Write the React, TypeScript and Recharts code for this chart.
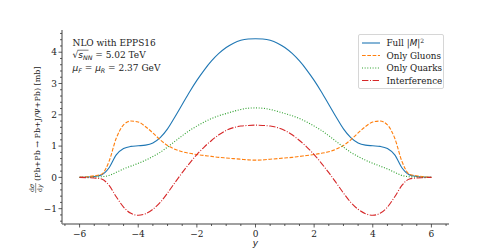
import React from 'react';
import { LineChart, Line, XAxis, YAxis, Legend } from 'recharts';

const xValues = [
  -6, -5.75, -5.5, -5.25, -5, -4.75, -4.5, -4.25, -4, -3.75, -3.5, -3.25, -3,
  -2.75, -2.5, -2.25, -2, -1.75, -1.5, -1.25, -1, -0.75, -0.5, -0.25, 0,
  0.25, 0.5, 0.75, 1, 1.25, 1.5, 1.75, 2, 2.25, 2.5, 2.75, 3, 3.25, 3.5, 3.75,
  4, 4.25, 4.5, 4.75, 5, 5.25, 5.5, 5.75, 6,
];

const fullM2 = [
  0, 0.01, 0.03, 0.08, 0.3, 0.72, 0.92, 0.99, 1.01, 1.03, 1.1, 1.27, 1.55,
  1.93, 2.33, 2.73, 3.1, 3.43, 3.72, 3.96, 4.15, 4.29, 4.38, 4.42, 4.43,
  4.42, 4.38, 4.29, 4.15, 3.96, 3.72, 3.43, 3.1, 2.73, 2.33, 1.93, 1.55, 1.27,
  1.1, 1.03, 1.01, 0.99, 0.92, 0.72, 0.3, 0.08, 0.03, 0.01, 0,
];

const onlyGluons = [
  0, 0.02, 0.05, 0.1, 0.5, 1.25, 1.68, 1.8, 1.77, 1.62, 1.42, 1.2, 1.02,
  0.9, 0.82, 0.77, 0.73, 0.7, 0.67, 0.64, 0.62, 0.6, 0.58, 0.56, 0.55,
  0.56, 0.58, 0.6, 0.62, 0.64, 0.67, 0.7, 0.73, 0.77, 0.82, 0.9, 1.02, 1.2,
  1.42, 1.62, 1.77, 1.8, 1.68, 1.25, 0.5, 0.1, 0.05, 0.02, 0,
];

const onlyQuarks = [
  0, 0, 0.01, 0.02, 0.06, 0.16, 0.27, 0.36, 0.45, 0.55, 0.67, 0.8, 0.97,
  1.15, 1.33, 1.5, 1.64, 1.77, 1.88, 1.97, 2.04, 2.11, 2.17, 2.21, 2.22,
  2.21, 2.17, 2.11, 2.04, 1.97, 1.88, 1.77, 1.64, 1.5, 1.33, 1.15, 0.97, 0.8,
  0.67, 0.55, 0.45, 0.36, 0.27, 0.16, 0.06, 0.02, 0.01, 0, 0,
];

const interference = [
  0, -0.01, -0.02, -0.05, -0.25, -0.62, -0.95, -1.15, -1.21, -1.16, -1.02, -0.8, -0.5,
  -0.17, 0.15, 0.45, 0.73, 0.97, 1.18, 1.36, 1.5, 1.59, 1.64, 1.66, 1.67,
  1.66, 1.64, 1.59, 1.5, 1.36, 1.18, 0.97, 0.73, 0.45, 0.15, -0.17, -0.5, -0.8,
  -1.02, -1.16, -1.21, -1.15, -0.95, -0.62, -0.25, -0.05, -0.02, -0.01, 0,
];

const xMajorTicks = [-6, -4, -2, 0, 2, 4, 6];
const xAllTicks = [
  -6.5, -6, -5.5, -5, -4.5, -4, -3.5, -3, -2.5, -2, -1.5, -1, -0.5, 0,
  0.5, 1, 1.5, 2, 2.5, 3, 3.5, 4, 4.5, 5, 5.5, 6, 6.5,
];
const yMajorTicks = [-1, 0, 1, 2, 3, 4];
const yAllTicks = [
  -1.4, -1.2, -1, -0.8, -0.6, -0.4, -0.2, 0, 0.2, 0.4, 0.6, 0.8, 1, 1.2, 1.4,
  1.6, 1.8, 2, 2.2, 2.4, 2.6, 2.8, 3, 3.2, 3.4, 3.6, 3.8, 4, 4.2, 4.4, 4.6,
];

const seriesNames = ['Full', 'Only Gluons', 'Only Quarks', 'Interference'];

const data = xValues.map((x, i) => ({
  x,
  full: fullM2[i],
  gluons: onlyGluons[i],
  quarks: onlyQuarks[i],
  interf: interference[i],
}));

const series = [
  { key: 'full', name: seriesNames[0], color: '#1f77b4', dash: undefined as string | undefined },
  { key: 'gluons', name: seriesNames[1], color: '#ff7f0e', dash: '3.7 1.6' },
  { key: 'quarks', name: seriesNames[2], color: '#2ca02c', dash: '1 1.65' },
  { key: 'interf', name: seriesNames[3], color: '#d62728', dash: '6.4 1.6 1 1.6' },
];

const SERIF = '"DejaVu Serif", serif';
const SANS = '"DejaVu Sans", sans-serif';
const SPINE = { stroke: '#808080', strokeWidth: 1.5 };

const fmt = (v: number) => (v < 0 ? '\u2212' + Math.abs(v) : String(v));

const XTick = (props: any) => {
  const { x, y, payload } = props;
  const v = payload.value as number;
  const major = xMajorTicks.includes(v);
  return (
    <g>
      <line x1={x} x2={x} y1={y} y2={y + (major ? 3.5 : 2)} stroke="#333" strokeWidth={0.8} />
      {major && (
        <text x={x} y={y + 12.5} textAnchor="middle" fontFamily={SERIF} fontSize={9} fill="#222">
          {fmt(v)}
        </text>
      )}
    </g>
  );
};

const YTick = (props: any) => {
  const { x, y, payload } = props;
  const v = payload.value as number;
  const major = yMajorTicks.includes(v);
  return (
    <g>
      <line x1={x} x2={x - (major ? 3.5 : 2)} y1={y} y2={y} stroke="#333" strokeWidth={0.8} />
      {major && (
        <text x={x - 5} y={y + 3.2} textAnchor="end" fontFamily={SERIF} fontSize={9} fill="#222">
          {fmt(v)}
        </text>
      )}
    </g>
  );
};

const LegendBox = () => (
  <div
    style={{
      width: 86,
      height: 55,
      boxSizing: 'border-box',
      border: '1px solid #d6d6d6',
      borderRadius: 2,
      background: 'rgba(255,255,255,0.85)',
    }}
  >
    <svg width={84} height={53} style={{ display: 'block' }}>
      {series.map((s, i) => {
        const cy = 8 + i * 12.5;
        return (
          <g key={s.key}>
            <line x1={3} x2={21} y1={cy} y2={cy} stroke={s.color} strokeWidth={1.1} strokeDasharray={s.dash} />
            <text x={27.5} y={cy + 3.2} fontFamily={SERIF} fontSize={8.8} fill="#222">
              {i === 0 ? (
                <>
                  <tspan>Full |</tspan>
                  <tspan fontFamily={SANS} fontStyle="italic">M</tspan>
                  <tspan>|</tspan>
                  <tspan fontSize={6} dy={-3.5}>2</tspan>
                </>
              ) : (
                s.name
              )}
            </text>
          </g>
        );
      })}
    </svg>
  </div>
);

export default function App() {
  return (
    <div style={{ position: 'absolute', left: 0, top: 0, width: 499, height: 252, background: '#fff' }}>
      <LineChart width={499} height={252} data={data} margin={{ top: 30, right: 50, bottom: 0, left: 0 }}>
        <XAxis
          dataKey="x"
          type="number"
          domain={[-6.6, 6.6]}
          ticks={xAllTicks}
          interval={0}
          tickLine={false}
          tickSize={0}
          tickMargin={0}
          height={28}
          axisLine={SPINE}
          tick={XTick}
          allowDataOverflow
        />
        <XAxis
          xAxisId="top"
          orientation="top"
          dataKey="x"
          type="number"
          domain={[-6.6, 6.6]}
          height={0}
          tick={false}
          tickLine={false}
          axisLine={SPINE}
        />
        <YAxis
          type="number"
          domain={[-1.49, 4.71]}
          ticks={yAllTicks}
          interval={0}
          width={62}
          tickLine={false}
          tickSize={0}
          tickMargin={0}
          axisLine={SPINE}
          tick={YTick}
          allowDataOverflow
        />
        <YAxis
          yAxisId="right"
          orientation="right"
          type="number"
          domain={[-1.49, 4.71]}
          width={0}
          tick={false}
          tickLine={false}
          axisLine={SPINE}
        />
        {series.map((s) => (
          <Line
            key={s.key}
            dataKey={s.key}
            name={s.name}
            type="monotone"
            stroke={s.color}
            strokeWidth={1.1}
            strokeDasharray={s.dash}
            dot={false}
            activeDot={false}
            isAnimationActive={false}
          />
        ))}
        <Legend
          layout="vertical"
          align="center"
          verticalAlign="middle"
          wrapperStyle={{ position: 'absolute', left: 358, top: 34, width: 86, height: 55 }}
          content={() => <LegendBox />}
        />
      </LineChart>
      <svg
        width={499}
        height={252}
        style={{ position: 'absolute', left: 0, top: 0, pointerEvents: 'none' }}
      >
        <g fontFamily={SERIF} fontSize={9} fill="#222">
          <text x={72.5} y={45.7}>NLO with EPPS16</text>
          <text x={72.5} y={58}>
            <tspan fontFamily={SANS}>√</tspan>
            <tspan fontFamily={SANS} fontStyle="italic">s</tspan>
            <tspan fontFamily={SANS} fontStyle="italic" fontSize={6.3} dy={1.8}>NN</tspan>
            <tspan dy={-1.8}> = 5.02 TeV</tspan>
          </text>
          <line x1={77.5} x2={88.5} y1={50.2} y2={50.2} stroke="#222" strokeWidth={0.6} />
          <text x={72.5} y={70.7}>
            <tspan fontFamily={SANS} fontStyle="italic">μ</tspan>
            <tspan fontFamily={SANS} fontStyle="italic" fontSize={6.3} dy={1.8}>F</tspan>
            <tspan dy={-1.8}> = </tspan>
            <tspan fontFamily={SANS} fontStyle="italic">μ</tspan>
            <tspan fontFamily={SANS} fontStyle="italic" fontSize={6.3} dy={1.8}>R</tspan>
            <tspan dy={-1.8}> = 2.37 GeV</tspan>
          </text>
          <text x={255.5} y={245.5} textAnchor="middle" fontFamily={SANS} fontStyle="italic">y</text>
        </g>
        <g transform="translate(40,132) rotate(-90)" fontFamily={SERIF} fill="#222">
          <text x={-56} y={-6} textAnchor="middle" fontSize={6.3}>
            d<tspan fontFamily={SANS} fontStyle="italic">σ</tspan>
          </text>
          <line x1={-61} x2={-51} y1={-4.3} y2={-4.3} stroke="#222" strokeWidth={0.5} />
          <text x={-56} y={1.5} textAnchor="middle" fontSize={6.3}>
            d<tspan fontFamily={SANS} fontStyle="italic">y</tspan>
          </text>
          <text x={-49} y={0} fontSize={8}>(Pb+Pb → Pb+J/Ψ+Pb) [mb]</text>
        </g>
      </svg>
    </div>
  );
}
